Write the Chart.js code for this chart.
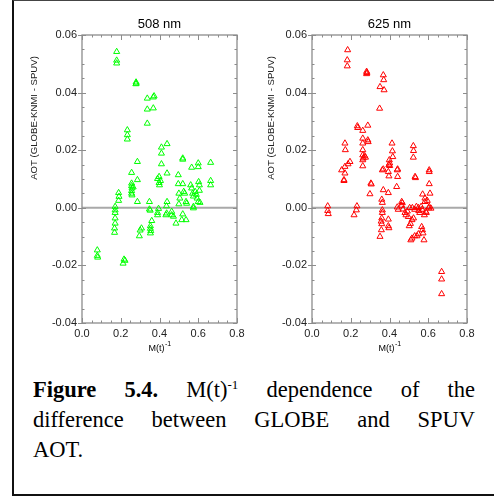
<!DOCTYPE html>
<html>
<head>
<meta charset="utf-8">
<script src="https://cdn.jsdelivr.net/npm/chart.js@4"></script>
<style>
  body { margin: 0; background: #fff; width: 494px; height: 497px; position: relative; overflow: hidden; }
  .frame { position: absolute; left: 12px; top: 0; width: 482px; height: 493px;
           border-left: 2px solid #111; border-top: 1px solid #444; border-bottom: 2px solid #111; }
  canvas { position: absolute; top: 0; }
  #chart508 { left: 0; }
  #chart625 { left: 247px; }
  .caption { position: absolute; left: 33px; top: 375px; width: 442px;
             font-family: "Liberation Serif", "Times New Roman", serif; font-size: 22.5px;
             line-height: 30px; color: #000; }
  .caption .j { text-align: justify; text-align-last: justify; }
  .caption sup { font-size: 13px; vertical-align: 8px; line-height: 0; }
</style>
</head>
<body>
<div class="frame"></div>
<canvas id="chart508" width="250" height="360"></canvas>
<canvas id="chart625" width="247" height="360"></canvas>
<div class="caption">
  <div class="j"><b>Figure 5.4.</b> M(t)<sup>-1</sup> dependence of the</div>
  <div class="j">difference between GLOBE and SPUV</div>
  <div>AOT.</div>
</div>
<script>
// labelled ticks
const xTicks = [0.0, 0.2, 0.4, 0.6, 0.8];
const yTicks = [-0.04, -0.02, 0.00, 0.02, 0.04, 0.06];

// 508 nm
const x508 = [0.179,0.179,0.179, 0.279,0.280,0.278, 0.337,0.368,0.372, 0.337,0.368,0.337,
  0.234,0.234,0.234, 0.410,0.410,0.439,0.410, 0.286,0.520,0.520,0.566, 0.600,0.600,0.664,
  0.256,0.286, 0.256,0.256,0.258,0.256,0.256,0.258,0.264, 0.189,0.191,0.189,0.286,
  0.171,0.171,0.171,0.171,0.171,0.168,0.168, 0.079,0.079,0.081, 0.217,0.222,0.212,
  0.348,0.348,0.352,0.360, 0.353,0.353,0.355,0.353, 0.307,0.300,0.296, 0.390,0.390,0.395,
  0.398,0.390,0.405,0.398,0.400, 0.439,0.439,0.436,0.437,0.433, 0.463,0.463,0.472,0.485,
  0.497,0.497,0.520,0.500,0.505,0.500, 0.520,0.515,0.537, 0.525,0.530,0.537,0.540,
  0.561,0.566,0.571,0.575,0.575,0.575, 0.584,0.590,0.594,0.600, 0.602,0.606,0.606,0.609,
  0.664,0.664];
const y508 = [0.0542,0.0512,0.0502, 0.0436,0.0432,0.0430, 0.0380,0.0384,0.0388, 0.0342,0.0346,0.0293,
  0.0270,0.0253,0.0238, 0.0210,0.0189,0.0222,0.0152, 0.0160,0.0172,0.0168,0.0140, 0.0155,0.0142,0.0157,
  0.0122,0.0097, 0.0085,0.0076,0.0068,0.0059,0.0050,0.0044,0.0072, 0.0052,0.0039,0.0025,0.0021,
  0.0004,-0.0008,-0.0017,-0.0036,-0.0054,-0.0071,-0.0086, -0.0147,-0.0166,-0.0172, -0.0179,-0.0183,-0.0193,
  0.0021,-0.0005,-0.0009,-0.0045, -0.0063,-0.0072,-0.0080,-0.0088, -0.0071,-0.0078,-0.0098, -0.0017,-0.0025,-0.0003,
  0.0108,0.0101,0.0094,0.0087,0.0079, 0.0120,0.0021,0.0006,-0.0019,-0.0025, -0.0013,-0.0025,-0.0030,-0.0054,
  0.0114,0.0083,0.0083,0.0050,0.0033,0.0013, -0.0022,-0.0042,-0.0042, 0.0056,0.0050,0.0021,0.0015,
  0.0079,0.0068,0.0050,0.0040,0.0004,-0.0001, 0.0056,0.0046,0.0033,0.0021, 0.0090,0.0079,0.0060,0.0018,
  0.0094,0.0079];

// 625 nm
const x625 = [0.184,0.182,0.182, 0.282,0.283,0.282, 0.368,0.370,0.372,0.351,0.349,
  0.234,0.236,0.288,0.262, 0.170,0.172,0.262,0.262,0.288,0.290, 0.262,0.262,0.264,0.262,0.272,0.276,
  0.413,0.415,0.417, 0.523,0.524,0.523, 0.399,0.401,0.401, 0.196,0.186,0.170,0.262,0.368,0.442,0.605,
  0.153,0.170,0.165,0.165, 0.304,0.306,0.299, 0.363,0.397,0.394,0.397, 0.440,0.442,0.437, 0.532,0.534,
  0.368,0.394,0.360,0.363, 0.363,0.363,0.360,0.357,0.360,0.358,0.351, 0.394,0.394,0.397,
  0.081,0.081,0.084, 0.232,0.229,0.217, 0.605,0.605,0.609,0.595,0.605,0.603,0.614, 0.571,0.583,0.583,
  0.440,0.445,0.463,0.466,0.463,0.470, 0.480,0.485,0.497,0.492,0.504, 0.502,0.508,0.516,0.524,
  0.518,0.530,0.539,0.549,0.551,0.556,0.563,0.568,0.580,0.587,0.590, 0.566,0.570,0.573,0.578,
  0.549,0.542,0.516,0.510,0.530, 0.669,0.669,0.669];
const y625 = [0.0548,0.0513,0.0492, 0.0473,0.0469,0.0465, 0.0461,0.0444,0.0409,0.0420,0.0345,
  0.0284,0.0278,0.0286,0.0268, 0.0224,0.0201,0.0241,0.0224,0.0235,0.0229, 0.0201,0.0183,0.0172,0.0166,0.0180,0.0175,
  0.0224,0.0197,0.0177, 0.0215,0.0198,0.0175, 0.0166,0.0155,0.0146, 0.0160,0.0152,0.0143,0.0145,0.0134,0.0134,0.0131,
  0.0131,0.0120,0.0097,0.0094, 0.0085,0.0082,0.0048, 0.0131,0.0149,0.0125,0.0110, 0.0131,0.0108,0.0073, 0.0108,0.0104,
  0.0062,0.0052,0.0029,0.0018, -0.0008,-0.0017,-0.0036,-0.0047,-0.0056,-0.0077,-0.0100, -0.0040,-0.0063,-0.0070,
  0.0006,-0.0010,-0.0021, 0.0006,-0.0008,-0.0025, 0.0125,0.0083,0.0050,0.0025,0.0004,-0.0001,-0.0002, 0.0047,0.0033,0.0021,
  0.0002,-0.0006,0.0021,0.0017,0.0008,-0.0005, -0.0017,-0.0025,-0.0031,-0.0012,0.0000, -0.0063,-0.0055,-0.0042,-0.0036,
  0.0000,-0.0006,0.0004,0.0000,-0.0010,-0.0017,0.0004,-0.0006,-0.0025,-0.0013,-0.0017, -0.0066,-0.0077,-0.0088,-0.0112,
  -0.0091,-0.0098,-0.0106,-0.0112,-0.0098, -0.0222,-0.0248,-0.0299];

const FONT = '"Liberation Sans", Arial, sans-serif';
const isMajor = (v, arr) => arr.some(t => Math.abs(t - v) < 1e-9);

// frame, inward ticks, zero line and the extra labels
const framePlugin = {
  id: 'frame',
  beforeDatasetsDraw(chart) {
    const {ctx, chartArea: a, scales: {y}} = chart;
    const y0 = y.getPixelForValue(0);
    ctx.save();
    ctx.strokeStyle = '#a9a9a9';
    ctx.lineWidth = 2;
    ctx.beginPath();
    ctx.moveTo(a.left, y0);
    ctx.lineTo(a.right, y0);
    ctx.stroke();
    ctx.restore();
  },
  afterDraw(chart, args, opts) {
    const {ctx, chartArea: a, scales: {x, y}} = chart;
    ctx.save();
    ctx.strokeStyle = '#8c8c8c';
    ctx.lineWidth = 1.3;
    ctx.strokeRect(a.left, a.top, a.right - a.left, a.bottom - a.top);
    ctx.lineWidth = 1;
    ctx.beginPath();
    x.ticks.forEach(t => {
      const px = Math.round(x.getPixelForValue(t.value)) + 0.5;
      const len = isMajor(t.value, xTicks) ? 5 : 2.5;
      ctx.moveTo(px, a.bottom); ctx.lineTo(px, a.bottom - len);
      ctx.moveTo(px, a.top); ctx.lineTo(px, a.top + len);
    });
    y.ticks.forEach(t => {
      const py = Math.round(y.getPixelForValue(t.value)) + 0.5;
      const major = isMajor(t.value, yTicks);
      const len = major ? 4 : 2.5;
      ctx.moveTo(a.left - (major ? 4 : 0), py); ctx.lineTo(a.left + len, py);
      ctx.moveTo(a.right, py); ctx.lineTo(a.right - len, py);
    });
    ctx.stroke();

    ctx.fillStyle = '#000';
    ctx.textBaseline = 'middle';
    ctx.textAlign = 'center';
    ctx.font = '13px ' + FONT;
    ctx.fillText(opts.title, (a.left + a.right) / 2, 24);

    // M(t)^-1
    ctx.textAlign = 'left';
    ctx.textBaseline = 'alphabetic';
    ctx.font = '9px ' + FONT;
    const w1 = ctx.measureText('M(t)').width;
    ctx.font = '7px ' + FONT;
    const w2 = ctx.measureText('-1').width;
    const sx = (a.left + a.right) / 2 - (w1 + w2) / 2;
    ctx.font = '9px ' + FONT;
    ctx.fillText('M(t)', sx, 351);
    ctx.font = '7px ' + FONT;
    ctx.fillText('-1', sx + w1 + 0.5, 346);

    ctx.translate(opts.yTitleX, 118);
    ctx.rotate(-Math.PI / 2);
    ctx.textAlign = 'center';
    ctx.textBaseline = 'middle';
    ctx.font = '9.6px ' + FONT;
    ctx.fillStyle = '#222';
    ctx.fillText('AOT (GLOBE-KNMI - SPUV)', 0, 0);
    ctx.restore();
  }
};

function makeChart(id, title, xs, ys, color, padLeft, padRight, yTitleX) {
  return new Chart(document.getElementById(id), {
    type: 'scatter',
    data: {
      datasets: [{
        data: xs.map((v, i) => ({x: v, y: ys[i]})),
        pointStyle: 'triangle',
        pointRadius: 3.5,
        borderWidth: 1,
        borderColor: color,
        backgroundColor: 'rgba(0,0,0,0)'
      }]
    },
    options: {
      responsive: false,
      animation: false,
      layout: {padding: {left: padLeft, right: padRight, top: 35, bottom: 0}},
      plugins: {
        legend: {display: false},
        tooltip: {enabled: false},
        frame: {title: title, yTitleX: yTitleX}
      },
      scales: {
        x: {
          type: 'linear', min: 0, max: 0.8,
          grid: {display: false, drawTicks: false},
          border: {display: false},
          ticks: {
            stepSize: 0.05, autoSkip: false, maxRotation: 0, padding: 4,
            color: '#222', font: {size: 11, family: FONT},
            callback: v => isMajor(v, xTicks) ? v.toFixed(1) : ''
          },
          afterFit: s => { s.height = 37; }
        },
        y: {
          min: -0.04, max: 0.06,
          grid: {display: false, drawTicks: false},
          border: {display: false},
          ticks: {
            stepSize: 0.005, autoSkip: false, padding: 5,
            color: '#222', font: {size: 11, family: FONT},
            callback: v => isMajor(v, yTicks) ? v.toFixed(2) : ''
          },
          afterFit: s => { s.width = 40; }
        }
      }
    },
    plugins: [framePlugin]
  });
}

makeChart('chart508', '508 nm', x508, y508, '#00ff00', 42, 13, 34);
makeChart('chart625', '625 nm', x625, y625, '#ff0000', 25, 27, 271.5 - 247);
</script>
</body>
</html>
